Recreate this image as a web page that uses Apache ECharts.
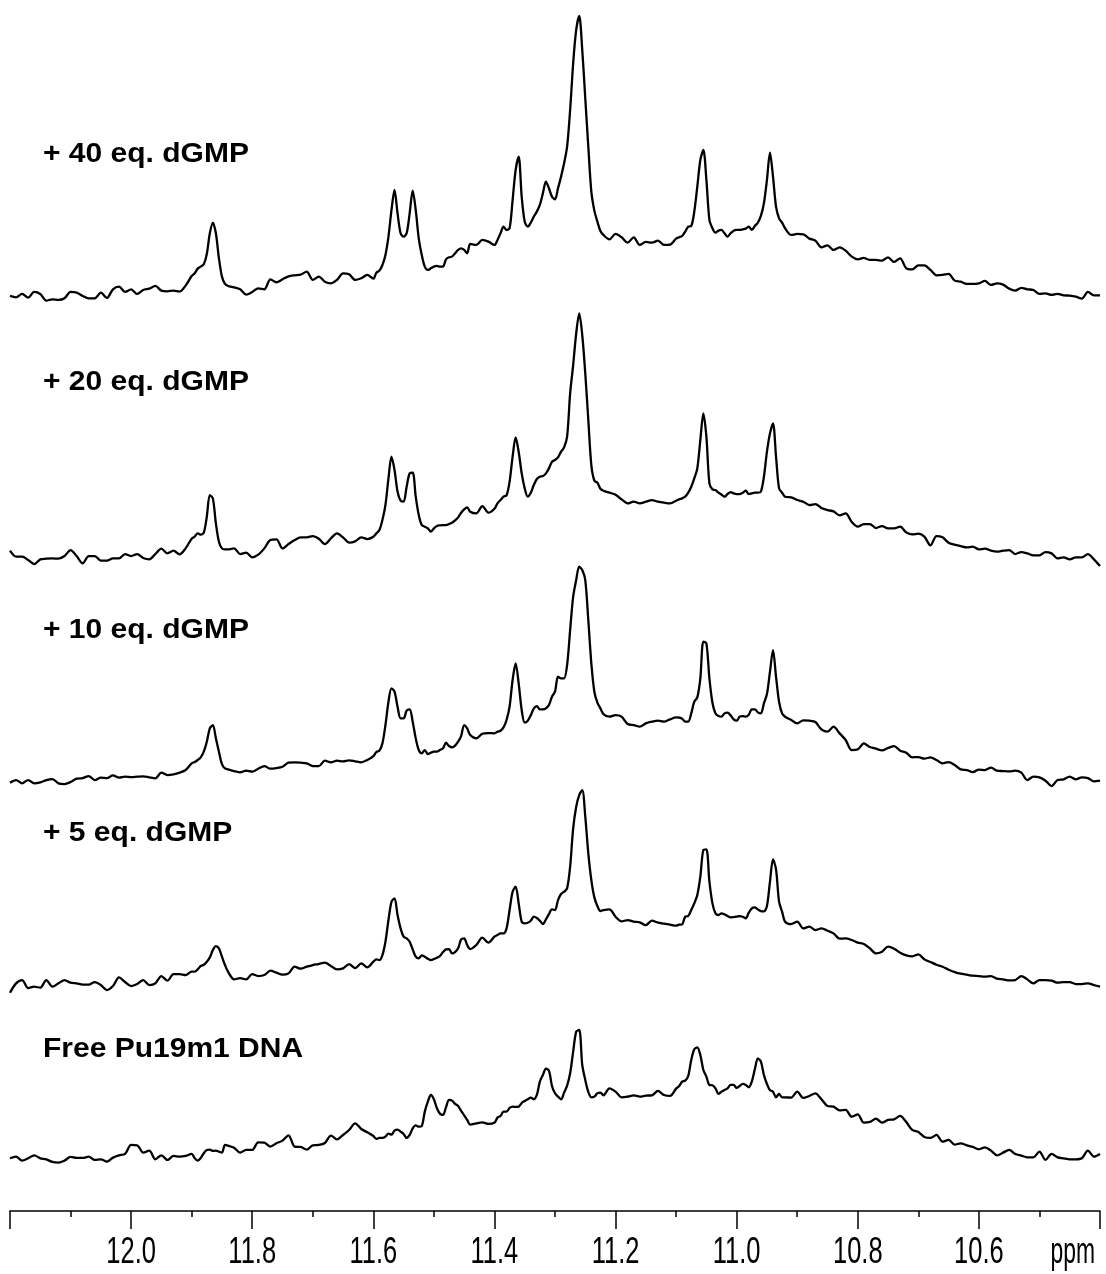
<!DOCTYPE html>
<html>
<head>
<meta charset="utf-8">
<title>Imino proton NMR titration of Pu19m1 with dGMP</title>
<script src="https://cdn.jsdelivr.net/npm/echarts@6/dist/echarts.min.js"></script>
<style>
  html, body { margin: 0; padding: 0; background: #ffffff; }
  #chart { width: 1106px; height: 1274px; }
</style>
</head>
<body>
<div id="chart"></div>
<script>
// Chemical shift sampling points (ppm), shared by every spectrum; denser around the imino peaks.
const ppm = [
  12.20,12.19,12.18,12.17,12.16,12.15,12.14,12.13,12.12,12.11,
  12.10,12.09,12.08,12.07,12.06,12.05,12.04,12.03,12.02,12.01,
  12.00,11.99,11.98,11.97,11.96,11.95,11.94,11.93,11.92,11.91,
  11.90,11.895,11.89,11.885,11.88,11.875,11.87,11.865,11.86,11.855,11.85,11.845,11.84,
  11.83,11.82,11.81,11.80,11.79,11.78,11.77,11.76,11.75,11.74,11.73,11.72,11.71,11.70,
  11.69,11.68,11.67,11.66,11.65,11.64,11.63,11.62,11.61,
  11.60,11.595,11.59,11.585,11.58,11.575,11.57,11.565,11.56,11.555,
  11.55,11.545,11.54,11.535,11.53,11.525,11.52,11.515,11.51,11.505,
  11.50,11.495,11.49,11.485,11.48,11.475,11.47,11.465,11.46,11.455,
  11.45,11.445,11.44,
  11.43,11.42,11.41,
  11.40,11.395,11.39,11.385,11.38,11.375,11.37,11.365,11.36,11.355,
  11.35,11.345,11.34,11.335,11.33,11.325,11.32,11.315,11.31,11.305,
  11.30,11.295,11.29,11.285,11.28,11.275,11.27,11.265,11.26,11.255,
  11.25,11.245,11.24,11.235,11.23,11.225,11.22,
  11.21,11.20,11.19,11.18,11.17,11.16,11.15,11.14,11.13,11.12,11.11,
  11.10,11.095,11.09,11.085,11.08,11.075,11.07,11.065,11.06,11.055,
  11.05,11.045,11.04,11.035,11.03,11.025,11.02,11.015,11.01,11.005,
  11.00,10.995,10.99,10.985,10.98,10.975,10.97,10.965,10.96,10.955,
  10.95,10.945,10.94,10.935,10.93,10.925,10.92,
  10.91,10.90,10.89,10.88,10.87,10.86,10.85,10.84,10.83,10.82,
  10.81,10.80,10.79,10.78,10.77,10.76,10.75,10.74,10.73,10.72,
  10.71,10.70,10.69,10.68,10.67,10.66,10.65,10.64,10.63,10.62,
  10.61,10.60,10.59,10.58,10.57,10.56,10.55,10.54,10.53,10.52,
  10.51,10.50,10.49,10.48,10.47,10.46,10.45,10.44,10.43,10.42,
  10.41,10.40
];

// Intensities (arbitrary units) for each titration point.
const eq40 = [
  22,18,28,17,34,28,8,12,10,15, 34,32,22,15,15,32,16,42,50,34, 42,28,40,44,52,38,36,38,35,53,
  82,90,104,110,117,148,210,242,210,135,80,58,52,
  48,42,26,34,45,42,72,63,72,81,84,86,95,70,80,65,60,70,90,87,70,75,85,
  74,92,98,115,145,200,280,340,270,210, 200,210,270,338,280,195,145,110,100,105,
  110,112,110,110,132,138,140,150,160,165, 160,150,178,
  175,190,185,
  175,190,210,230,220,225,310,400,440,320, 245,230,242,260,275,295,330,365,345,320,
  312,345,380,420,470,580,720,820,862,760, 615,470,335,278,245,217,205,
  192,208,198,182,198,175,184,182,188,175,176,
  194,198,202,215,230,232,275,350,430,460, 370,250,225,212,218,220,210,200,210,218,
  220,220,222,224,230,220,232,242,262,300, 370,452,380,290,255,242,225,
  205,208,207,194,188,168,174,160,168,158, 140,132,136,130,130,128,138,124,135,105,
  102,114,114,100,84,85,88,68,65,58, 58,60,67,55,60,56,44,38,46,42,
  40,28,30,25,28,24,23,20,14,34, 24,24
];

const eq20 = [
  60,42,42,32,20,34,36,37,36,44, 62,44,22,44,44,30,30,37,37,50, 44,50,38,34,50,66,52,60,49,67,
  96,102,112,108,114,162,227,217,142,87,67,64,64,
  67,50,54,40,48,67,92,94,67,80,92,100,100,104,96,80,97,112,100,84,88,100,95,
  102,112,122,152,197,277,342,302,237,210, 207,252,292,294,222,167,137,132,127,117,
  127,134,136,137,137,140,144,151,160,174, 184,190,177,
  172,194,174,
  186,202,212,222,226,267,342,400,357,292, 247,222,234,257,275,282,284,292,307,327,
  332,340,357,370,402,532,617,712,772,707, 592,452,317,270,264,246,240,
  234,228,214,202,207,202,207,212,207,204,202,
  210,214,217,222,234,252,277,307,392,472, 402,262,244,242,234,228,222,230,236,232,
  230,230,234,240,230,232,234,234,237,282, 357,412,442,342,247,234,222,
  220,212,207,197,200,188,182,178,166,172, 146,132,140,140,128,134,127,127,132,115,
  109,111,102,76,104,100,84,78,74,70, 72,64,66,60,57,60,62,50,56,52,
  46,46,56,52,37,40,34,40,40,50, 34,14
];

const eq10 = [
  30,38,28,38,28,31,38,41,28,26, 32,42,44,50,38,45,44,52,45,48, 47,48,49,46,43,60,53,55,60,68,
  88,92,98,106,123,153,193,203,163,123,86,73,70,
  65,61,66,63,72,80,72,74,78,90,91,90,88,80,80,96,91,96,94,97,94,91,98,
  110,122,126,148,203,273,313,303,258,223, 223,246,250,213,163,128,118,128,116,120,
  123,123,128,133,150,140,136,141,153,170, 203,193,173,
  163,177,179,
  178,183,186,196,218,258,338,388,328,248, 210,216,232,253,260,250,250,253,263,288,
  303,348,343,343,383,488,588,638,678,668, 638,518,388,303,270,253,236,
  228,233,228,206,203,198,208,213,216,213,220,
  226,225,222,213,213,238,273,286,343,453, 448,343,270,238,230,228,238,240,232,220,
  216,228,230,228,234,250,250,241,238,268, 296,363,428,348,273,238,228,
  218,208,217,216,212,190,183,198,178,158, 128,130,148,137,132,127,134,140,126,120,
  106,107,102,106,98,88,92,83,70,68, 62,69,68,75,66,65,64,66,60,38,
  48,46,36,20,38,40,48,40,46,44, 34,36
];

const eq5 = [
  18,46,56,32,36,33,56,36,46,56, 48,46,42,42,50,41,26,38,64,50, 38,44,56,41,46,68,54,74,74,71,
  81,81,88,98,102,111,124,146,158,151,126,101,81,
  58,62,58,74,68,71,84,78,72,76,96,90,96,101,104,108,98,88,91,104,92,106,94,
  111,118,116,131,171,236,291,301,251,211, 186,181,171,148,126,121,130,126,120,116,
  119,123,128,140,148,149,136,140,151,178, 181,161,149,
  161,183,168,
  186,191,196,196,211,266,321,336,286,231, 226,228,234,246,242,234,224,238,254,268,
  266,296,314,321,331,396,511,576,611,626, 546,436,356,304,278,263,266,
  268,246,232,236,231,229,221,234,228,225,222,
  219,222,223,246,248,266,286,311,366,446, 448,351,286,256,251,256,253,248,244,245,
  246,248,246,241,258,271,274,268,263,262, 278,351,418,388,291,261,231,
  224,231,211,216,206,211,204,196,180,181, 176,168,164,151,136,141,156,150,138,130,
  127,133,118,110,102,96,87,80,75,72, 69,68,66,68,60,58,55,56,68,58,
  46,56,56,54,48,50,50,44,44,46, 41,36
];

const freeDNA = [
  45,50,38,45,54,45,42,34,32,38, 49,46,46,50,40,42,35,47,54,58, 85,84,62,68,42,54,40,52,50,52,
  58,45,38,46,60,70,71,67,68,65,62,85,83,
  77,62,70,70,93,92,80,90,98,114,80,79,71,84,85,91,113,102,115,130,150,133,123,
  112,103,106,106,110,119,116,128,131,125, 118,106,115,135,144,140,142,185,215,235,
  222,195,179,175,198,220,218,208,202,187, 174,160,146,
  150,153,148,
  152,167,172,185,185,196,200,199,200,211, 217,222,227,222,235,275,295,314,308,262,
  240,230,222,242,263,300,365,425,430,325, 280,244,228,230,240,242,234,
  255,245,228,230,234,230,233,234,247,235,232,
  254,262,275,278,292,340,372,378,355,310, 290,265,264,255,238,245,250,255,265,265,
  256,262,268,265,258,275,312,345,335,295, 268,249,245,228,238,228,228,
  227,245,226,232,240,222,202,200,189,190, 170,177,152,154,164,152,160,162,172,154,
  130,124,109,106,115,95,100,86,90,84, 79,72,78,68,54,62,70,58,53,48,
  48,65,40,58,48,45,42,42,45,68, 50,58
];

// Spectrum titles, top to bottom.
const spectrumLabels = ['+ 40 eq. dGMP', '+ 20 eq. dGMP', '+ 10 eq. dGMP', '+ 5 eq. dGMP', 'Free Pu19m1 DNA'];
const spectra = [eq40, eq20, eq10, eq5, freeDNA];

// Labelled ticks on the chemical shift axis and its unit.
const tickLabels = [12.0, 11.8, 11.6, 11.4, 11.2, 11.0, 10.8, 10.6];
const axisUnit = 'ppm';

// ---- layout ----
const PPM_MIN = 10.4, PPM_MAX = 12.2;
const baselines = [303.3, 570.7, 792.7, 998.7, 1173.3]; // pixel row of zero intensity for each trace
const bandHeight = 300;                                 // pixel height of each stacked band
const bandMax = 900;                                    // intensity mapped to the band height
const axisY = 1211;                                     // pixel row of the ppm axis line
const titleMidY = [154.5, 382, 630.5, 833.5, 1049];

const chart = echarts.init(document.getElementById('chart'), null, { renderer: 'canvas' });

const grids = [], xAxes = [], yAxes = [], series = [];
spectra.forEach((vals, i) => {
  const last = i === spectra.length - 1;
  grids.push({ left: 10, right: 6, top: baselines[i] - bandHeight, height: bandHeight });
  xAxes.push({
    gridIndex: i,
    type: 'value',
    min: PPM_MIN,
    max: PPM_MAX,
    inverse: true,
    interval: 0.2,
    show: last,
    offset: last ? axisY - baselines[i] : 0,
    axisLine: { show: true, onZero: false, lineStyle: { color: '#000', width: 1.5 } },
    axisTick: { show: true, length: 18, lineStyle: { color: '#000', width: 1.5 } },
    minorTick: { show: true, splitNumber: 2, length: 6, lineStyle: { color: '#000', width: 1.5 } },
    axisLabel: { show: false },
    splitLine: { show: false },
    minorSplitLine: { show: false }
  });
  yAxes.push({ gridIndex: i, type: 'value', min: 0, max: bandMax, show: false, splitLine: { show: false } });
  series.push({
    name: spectrumLabels[i],
    type: 'line',
    xAxisIndex: i,
    yAxisIndex: i,
    data: ppm.map((p, k) => [p, vals[k]]),
    showSymbol: false,
    symbol: 'none',
    clip: false,
    smooth: 0.3,
    lineStyle: { color: '#000', width: 2.3, join: 'round' },
    silent: true
  });
});

chart.setOption({
  animation: false,
  backgroundColor: '#ffffff',
  grid: grids,
  xAxis: xAxes,
  yAxis: yAxes,
  series: series
});

// Spectrum titles and axis tick labels (tall, narrow numerals), placed through the axis scale.
const graphics = spectrumLabels.map((t, i) => ({
  type: 'text',
  x: 43,
  y: titleMidY[i],
  scaleX: 1, scaleY: 0.95,
  silent: true,
  style: {
    text: t,
    x: 0, y: 0,
    fill: '#000',
    fontFamily: 'Liberation Sans, Arial, sans-serif',
    fontWeight: 'bold',
    fontSize: 30,
    align: 'left', verticalAlign: 'middle',
    textAlign: 'left', textVerticalAlign: 'middle'
  }
}));

const labelMidY = 1253;
const axisIdx = spectra.length - 1;
tickLabels.forEach(v => {
  const px = chart.convertToPixel({ xAxisIndex: axisIdx }, v);
  graphics.push({
    type: 'text',
    x: px, y: labelMidY,
    scaleX: 0.98, scaleY: 1.4,
    silent: true,
    style: {
      text: v.toFixed(1),
      x: 0, y: 0,
      fill: '#000',
      fontFamily: 'Liberation Sans, Arial, sans-serif',
      fontSize: 26,
      align: 'center', verticalAlign: 'middle',
      textAlign: 'center', textVerticalAlign: 'middle'
    }
  });
});
graphics.push({
  type: 'text',
  x: chart.convertToPixel({ xAxisIndex: axisIdx }, PPM_MIN) - 5,
  y: labelMidY,
  scaleX: 0.88, scaleY: 1.4,
  silent: true,
  style: {
    text: axisUnit,
    x: 0, y: 0,
    fill: '#000',
    fontFamily: 'Liberation Sans, Arial, sans-serif',
    fontSize: 26,
    align: 'right', verticalAlign: 'middle',
    textAlign: 'right', textVerticalAlign: 'middle'
  }
});

chart.setOption({ graphic: graphics });
</script>
</body>
</html>
